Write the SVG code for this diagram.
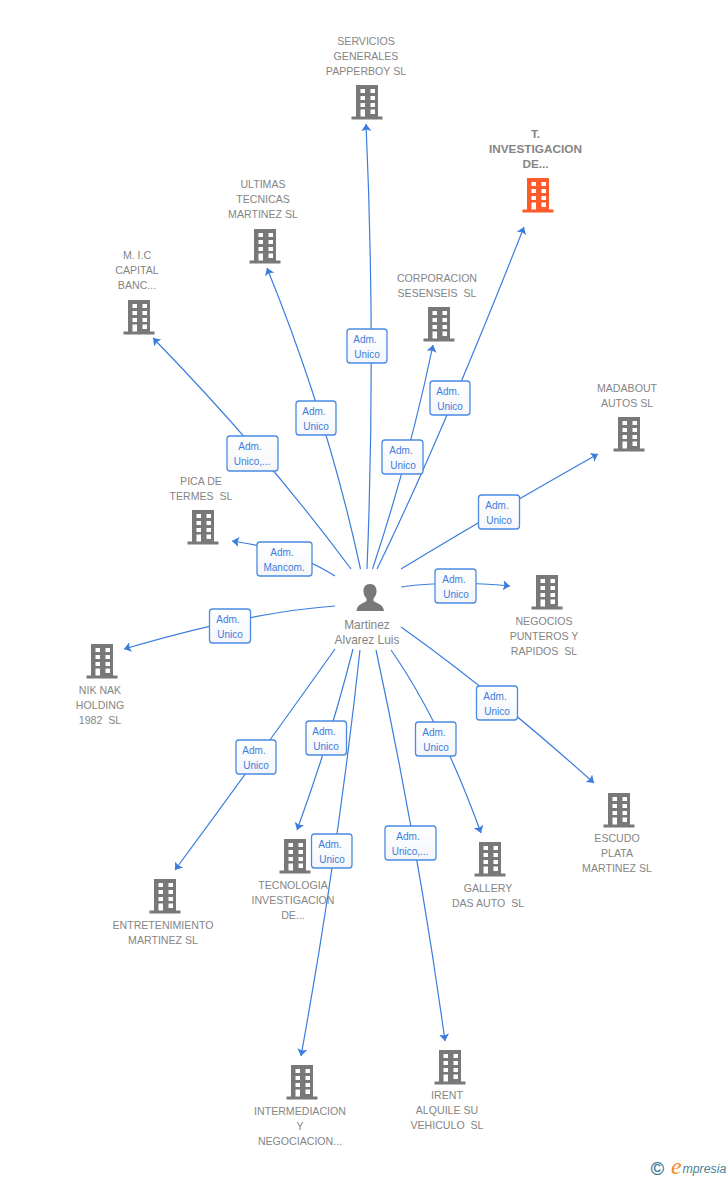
<svg xmlns="http://www.w3.org/2000/svg" width="728" height="1180" viewBox="0 0 728 1180">
<style>
.n{font:10.6px "Liberation Sans",Arial,sans-serif;fill:#858585;text-anchor:middle;white-space:pre}
.b{font-size:11.8px;font-weight:bold}
.p{font:11.9px "Liberation Sans",Arial,sans-serif;fill:#858585;text-anchor:middle}
.l{font:10px "Liberation Sans",Arial,sans-serif;fill:#3b7ddd;text-anchor:middle}
.r{fill:url(#g);stroke:#4a8ae4;stroke-width:1.3}
.c{fill:none;stroke:#3b7ddd;stroke-width:1.2;marker-end:url(#a)}
.w{fill:#fff}
</style>
<defs>
<marker id="a" markerWidth="10" markerHeight="10" refX="7" refY="5" orient="auto" markerUnits="userSpaceOnUse"><path d="M0 0L7 5L0 10L1.500 5Z" fill="#3b7ddd"/></marker>
<linearGradient id="g" x1="0" y1="0" x2="0" y2="1"><stop offset="0" stop-color="#fff"/><stop offset="1" stop-color="#f4f6fa"/></linearGradient>
<g id="bld">
<path d="M-11 0H11V31.500H15.500V34.500H-15.500V31.500H-11Z"/>
<path class="w" d="M-6.500 4H-2V8H-6.500ZM3.500 4H8V8H3.500ZM-6.500 11H-2V15H-6.500ZM3.500 11H8V15H3.500ZM-6.500 18H-2V22H-6.500ZM3.500 18H8V22H3.500ZM-6.500 24.500H-2V31.500H-6.500ZM3.500 24.500H8V29H3.500Z"/>
</g>
</defs>
<g id="connectors">
<path class="c" d="M367 569Q376 346 366 124"/>
<path class="c" d="M377 569Q440 440 524 227"/>
<path class="c" d="M360.500 569Q328 418 267 268"/>
<path class="c" d="M351 569Q265 453 153 338"/>
<path class="c" d="M372.500 569Q410 456 433 345"/>
<path class="c" d="M401 569Q490 515 598 454"/>
<path class="c" d="M335 576Q295 550 232 541"/>
<path class="c" d="M401 587Q450 580 510 586"/>
<path class="c" d="M335 606Q250 612 124 649"/>
<path class="c" d="M401 627Q490 690 594 783"/>
<path class="c" d="M391 650Q440 720 481 833"/>
<path class="c" d="M353 649Q330 740 297 830"/>
<path class="c" d="M335 649Q262 752 175 870"/>
<path class="c" d="M360 650Q338 853 301 1056"/>
<path class="c" d="M376 650Q418 845 445 1041"/>
</g>
<g id="n1" fill="#787878"><text class="n" x="366" y="45">SERVICIOS</text><text class="n" x="366" y="60">GENERALES</text><text class="n" x="366" y="75">PAPPERBOY SL</text><use href="#bld" x="367" y="85"/></g>
<g id="n2" fill="#ff5a2c"><text class="n b" x="535.500" y="138">T.</text><text class="n b" x="535.500" y="153">INVESTIGACION</text><text class="n b" x="535.500" y="168">DE...</text><use href="#bld" x="538" y="178"/></g>
<g id="n3" fill="#787878"><text class="n" x="263" y="188">ULTIMAS</text><text class="n" x="263" y="203">TECNICAS</text><text class="n" x="263" y="218">MARTINEZ SL</text><use href="#bld" x="265" y="229"/></g>
<g id="n4" fill="#787878"><text class="n" x="137" y="259">M. I.C</text><text class="n" x="137" y="274">CAPITAL</text><text class="n" x="137" y="289">BANC...</text><use href="#bld" x="139" y="300"/></g>
<g id="n5" fill="#787878"><text class="n" x="437" y="282">CORPORACION</text><text class="n" x="437" y="297">SESENSEIS  SL</text><use href="#bld" x="439" y="307"/></g>
<g id="n6" fill="#787878"><text class="n" x="627" y="392">MADABOUT</text><text class="n" x="627" y="407">AUTOS SL</text><use href="#bld" x="629" y="417"/></g>
<g id="n7" fill="#787878"><text class="n" x="201" y="485">PICA DE</text><text class="n" x="201" y="500">TERMES  SL</text><use href="#bld" x="203" y="510"/></g>
<g id="n8" fill="#787878"><use href="#bld" x="547" y="575"/><text class="n" x="544" y="625">NEGOCIOS</text><text class="n" x="544" y="640">PUNTEROS Y</text><text class="n" x="544" y="655">RAPIDOS  SL</text></g>
<g id="n9" fill="#787878"><use href="#bld" x="102" y="644"/><text class="n" x="100" y="694">NIK NAK</text><text class="n" x="100" y="709">HOLDING</text><text class="n" x="100" y="724">1982  SL</text></g>
<g id="n10" fill="#787878"><use href="#bld" x="619" y="793"/><text class="n" x="617" y="842">ESCUDO</text><text class="n" x="617" y="857">PLATA</text><text class="n" x="617" y="872">MARTINEZ SL</text></g>
<g id="n11" fill="#787878"><use href="#bld" x="490" y="842"/><text class="n" x="488" y="892">GALLERY</text><text class="n" x="488" y="907">DAS AUTO  SL</text></g>
<g id="n12" fill="#787878"><use href="#bld" x="295" y="839"/><text class="n" x="293" y="889">TECNOLOGIA</text><text class="n" x="293" y="904">INVESTIGACION</text><text class="n" x="293" y="919">DE...</text></g>
<g id="n13" fill="#787878"><use href="#bld" x="165" y="879"/><text class="n" x="163" y="929">ENTRETENIMIENTO</text><text class="n" x="163" y="944">MARTINEZ SL</text></g>
<g id="n14" fill="#787878"><use href="#bld" x="302" y="1065"/><text class="n" x="300" y="1115">INTERMEDIACION</text><text class="n" x="300" y="1130">Y</text><text class="n" x="300" y="1145">NEGOCIACION...</text></g>
<g id="n15" fill="#787878"><use href="#bld" x="450" y="1050"/><text class="n" x="447" y="1099">IRENT</text><text class="n" x="447" y="1114">ALQUILE SU</text><text class="n" x="447" y="1129">VEHICULO  SL</text></g>
<g id="person">
<path fill="#787878" d="M370 584C374.500 584 377 587.500 376.500 592C376.200 595 375 597 373.500 598.500V601C376 603 383.500 604 384 611H356.500C357 604 364 603 366.500 601V598.500C365 597 363.800 595 363.500 592C363 587.500 365.500 584 370 584Z"/>
<text class="p" x="367" y="629">Martinez</text><text class="p" x="367" y="644">Alvarez Luis</text>
</g>
<g id="labels">
<rect class="r" x="347" y="329" width="40" height="34" rx="3"/><text class="l" x="365" y="343">Adm.</text><text class="l" x="367" y="358">Unico</text>
<rect class="r" x="430" y="381" width="40" height="34" rx="3"/><text class="l" x="448" y="395">Adm.</text><text class="l" x="450" y="410">Unico</text>
<rect class="r" x="296" y="401" width="40" height="34" rx="3"/><text class="l" x="314" y="415">Adm.</text><text class="l" x="316" y="430">Unico</text>
<rect class="r" x="227" y="436" width="51" height="35" rx="3"/><text class="l" x="250" y="450">Adm.</text><text class="l" x="252" y="465">Unico,...</text>
<rect class="r" x="382" y="440" width="41" height="34" rx="3"/><text class="l" x="401" y="454">Adm.</text><text class="l" x="403" y="469">Unico</text>
<rect class="r" x="478.500" y="495" width="41" height="34" rx="3"/><text class="l" x="497" y="509">Adm.</text><text class="l" x="499" y="524">Unico</text>
<rect class="r" x="257" y="542" width="55" height="34" rx="3"/><text class="l" x="282" y="556">Adm.</text><text class="l" x="284" y="571">Mancom.</text>
<rect class="r" x="435" y="569" width="41" height="34" rx="3"/><text class="l" x="454" y="583">Adm.</text><text class="l" x="456" y="598">Unico</text>
<rect class="r" x="209.500" y="609" width="41" height="34" rx="3"/><text class="l" x="228" y="623">Adm.</text><text class="l" x="230" y="638">Unico</text>
<rect class="r" x="476.500" y="686" width="41" height="34" rx="3"/><text class="l" x="495" y="700">Adm.</text><text class="l" x="497" y="715">Unico</text>
<rect class="r" x="415.500" y="722" width="40.500" height="34" rx="3"/><text class="l" x="434" y="736">Adm.</text><text class="l" x="436" y="751">Unico</text>
<rect class="r" x="306" y="721" width="40.500" height="34" rx="3"/><text class="l" x="324" y="735">Adm.</text><text class="l" x="326" y="750">Unico</text>
<rect class="r" x="311.500" y="834" width="40.500" height="34" rx="3"/><text class="l" x="330" y="848">Adm.</text><text class="l" x="332" y="863">Unico</text>
<rect class="r" x="236" y="740" width="40" height="34" rx="3"/><text class="l" x="254" y="754">Adm.</text><text class="l" x="256" y="769">Unico</text>
<rect class="r" x="385" y="826" width="51" height="34" rx="3"/><text class="l" x="408" y="840">Adm.</text><text class="l" x="410" y="855">Unico,...</text>
</g>
<g id="logo">
<text x="657.500" y="1174.500" font-family="Liberation Sans, sans-serif" font-size="18" fill="#3f7a90" stroke="#3f7a90" stroke-width="0.300" text-anchor="middle">©</text>
<text x="671" y="1174" font-family="Liberation Serif, serif" font-style="italic" font-size="24" fill="#f08a1e">e</text>
<text x="682.500" y="1173" font-family="Liberation Sans, sans-serif" font-style="italic" font-size="12.300" fill="#4a8296">mpresia</text>
</g>
</svg>
